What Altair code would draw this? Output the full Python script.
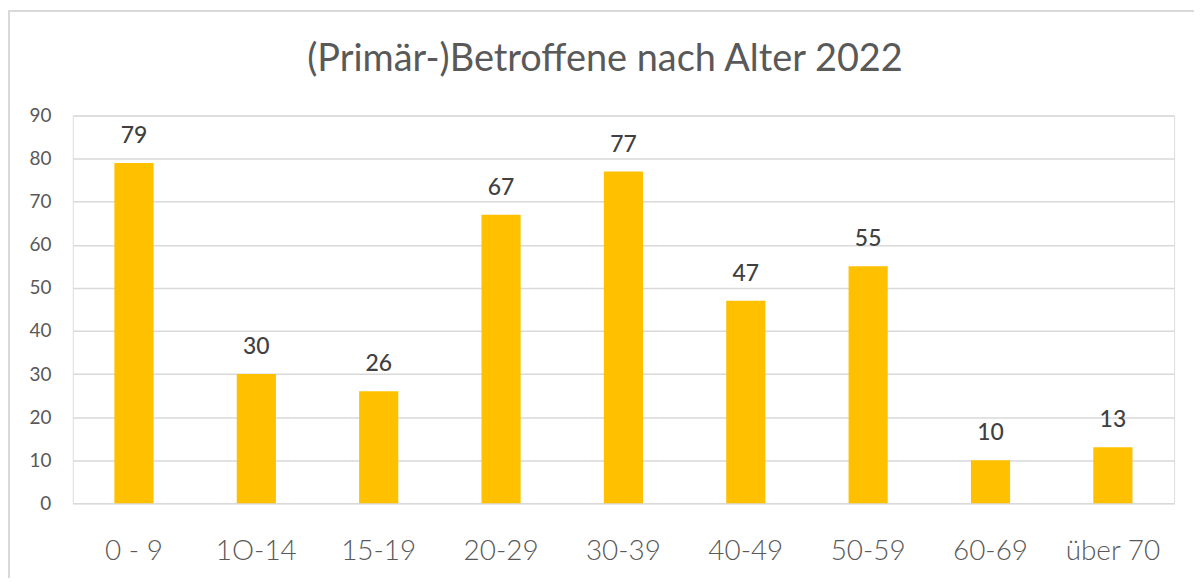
import altair as alt
import pandas as pd

categories = ["0 - 9", "1O-14", "15-19", "20-29", "30-39", "40-49", "50-59", "60-69", "über 70"]
values = [79, 30, 26, 67, 77, 47, 55, 10, 13]
y_ticks = [0, 10, 20, 30, 40, 50, 60, 70, 80, 90]
title_text = "(Primär-)Betroffene nach Alter 2022"

df = pd.DataFrame({"cat": categories, "val": values})

FONT = "Lato"
GREY = "#595959"

x_enc = alt.X("cat:N", sort=categories, title=None,
              scale=alt.Scale(paddingInner=0.68, paddingOuter=0.34),
              axis=alt.Axis(labelAngle=0, ticks=False, domain=False, labelFontSize=28,
                            labelFontWeight=300,
                            labelColor=GREY, labelFont=FONT, labelPadding=34, grid=False))
y_enc = alt.Y("val:Q", title=None,
              scale=alt.Scale(domain=[0, 90], nice=False),
              axis=alt.Axis(values=y_ticks, ticks=False, domain=False, labelFontSize=19,
                            labelColor=GREY, labelFont=FONT, labelPadding=22,
                            gridColor="#d9d9d9", gridWidth=1.5))

border = alt.Chart(df).mark_rect(fill=None, stroke="#d9d9d9", strokeWidth=2).encode(
    x=alt.value(-64), x2=alt.value(1200), y=alt.value(-105), y2=alt.value(520)
)

title = alt.Chart(pd.DataFrame({"t": [title_text]})).mark_text(
    fontSize=38, font=FONT, color=GREY, baseline="alphabetic", align="center"
).encode(x=alt.value(534), y=alt.value(-45), text="t:N")

bars = alt.Chart(df).mark_bar(color="#FFC000").encode(x=x_enc, y=y_enc)

labels = alt.Chart(df).mark_text(baseline="bottom", dy=-15, fontSize=23, fontWeight=500,
                                  color="#404040", font=FONT).encode(
    x=alt.X("cat:N", sort=categories), y="val:Q", text="val:Q"
)

chart = alt.layer(border, title, bars, labels).properties(
    width=1105, height=389,
    autosize=alt.AutoSizeParams(type="none"),
    padding={"left": 65, "top": 107, "right": 20, "bottom": 74},
).configure_view(stroke=None).configure(background="white")

chart.save("out.html", embed_options={"renderer": "svg", "actions": False})
